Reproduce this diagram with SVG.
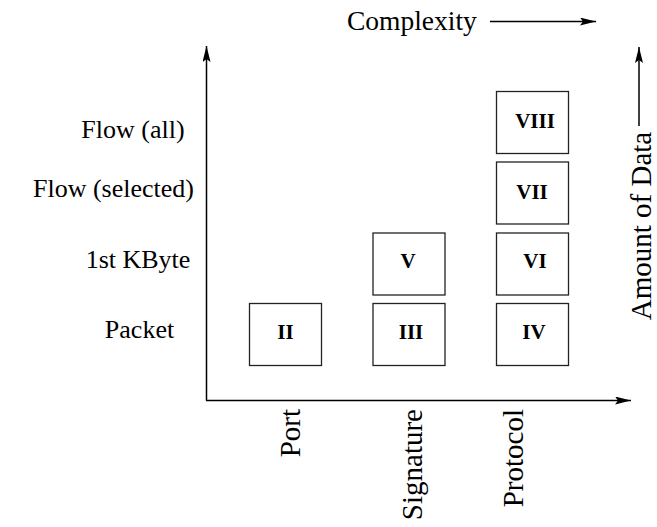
<svg xmlns="http://www.w3.org/2000/svg" width="657" height="527" viewBox="0 0 657 527">
<style>
.lbl{font-family:'Liberation Serif','Times New Roman',Times,'DejaVu Serif',serif;font-size:26px;fill:#000}
.big{font-size:29px}
.num{font-family:'Liberation Serif','Times New Roman',Times,'DejaVu Serif',serif;font-size:21px;font-weight:bold;fill:#000;text-anchor:middle}
.box{fill:#fff;stroke:#222;stroke-width:1.3}
.ax{stroke:#000;stroke-width:1.5;fill:none}
</style>
<defs>
<marker id="ah" markerWidth="16" markerHeight="8" refX="16" refY="4" orient="auto" markerUnits="userSpaceOnUse">
<path d="M0,0 L16,4 L0,8 L3,4 Z" fill="#000"/>
</marker>
</defs>
<g id="connectors">
<line class="ax" x1="206.5" y1="400.5" x2="206.5" y2="46" marker-end="url(#ah)"/>
<line class="ax" x1="206" y1="400.5" x2="631" y2="400.5" marker-end="url(#ah)"/>
<line class="ax" x1="490" y1="21.5" x2="596" y2="21.5" marker-end="url(#ah)"/>
<line class="ax" x1="639" y1="126" x2="639" y2="47" marker-end="url(#ah)"/>
</g>
<g id="axis-labels">
<text class="lbl" x="347" y="30" font-size="27.5" style="font-size:27.5px">Complexity</text>
<text class="lbl big" transform="translate(651,226) rotate(-90)" text-anchor="middle">Amount of Data</text>
<text class="lbl" x="133" y="138" text-anchor="middle">Flow (all)</text>
<text class="lbl" x="113.5" y="197" text-anchor="middle">Flow (selected)</text>
<text class="lbl" x="138" y="268" text-anchor="middle">1st KByte</text>
<text class="lbl" x="139.5" y="338" text-anchor="middle">Packet</text>
<text class="lbl big" transform="translate(300,409) rotate(-90)" text-anchor="end">Port</text>
<text class="lbl big" transform="translate(422,409) rotate(-90)" text-anchor="end">Signature</text>
<text class="lbl big" transform="translate(523,409) rotate(-90)" text-anchor="end">Protocol</text>
</g>
<g id="n2"><rect class="box" x="249.5" y="303.5" width="72" height="62"/><text class="num" x="285.5" y="339">II</text></g>
<g id="n3"><rect class="box" x="373" y="303.5" width="72" height="62"/><text class="num" x="411" y="339">III</text></g>
<g id="n4"><rect class="box" x="496.5" y="303.5" width="72" height="62"/><text class="num" x="534" y="339">IV</text></g>
<g id="n5"><rect class="box" x="373" y="233" width="72" height="62"/><text class="num" x="408" y="268">V</text></g>
<g id="n6"><rect class="box" x="496.5" y="233" width="72" height="62"/><text class="num" x="535" y="268">VI</text></g>
<g id="n7"><rect class="box" x="496.5" y="162" width="72" height="62"/><text class="num" x="532" y="199">VII</text></g>
<g id="n8"><rect class="box" x="496.5" y="91.5" width="72" height="62"/><text class="num" x="535" y="128">VIII</text></g>
</svg>
